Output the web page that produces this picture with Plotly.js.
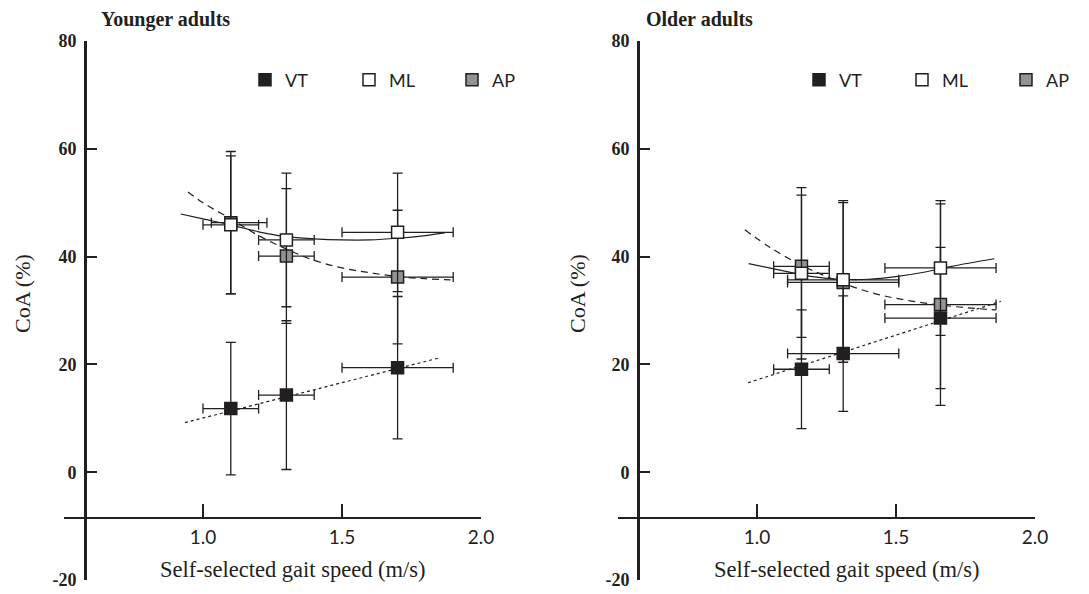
<!DOCTYPE html>
<html>
<head>
<meta charset="utf-8">
<script src="https://cdn.plot.ly/plotly-3.0.1.min.js"></script>
<style>html,body{margin:0;padding:0;background:#fff;}#chart{width:1089px;height:594px;}</style>
</head>
<body>
<div id="chart"></div>
<script>
// ---------- data ----------
const seriesNames = ["VT", "ML", "AP"];
const panelTitles = ["Younger adults", "Older adults"];
const xTickVals = [1.0, 1.5, 2.0];
const xTickText = ["1.0", "1.5", "2.0"];
const yTickVals = [-20, 0, 20, 40, 60, 80];
const yTickText = ["-20", "0", "20", "40", "60", "80"];

// Younger adults
const speedYoung = [1.10, 1.30, 1.70];
const vtYoung = [11.8, 14.3, 19.4];
const vtYoungSd = [12.3, 13.8, 13.2];
const mlYoung = [45.9, 43.1, 44.5];
const mlYoungSd = [12.8, 12.4, 11.0];
const apYoung = [46.3, 40.1, 36.2];
const apYoungSd = [13.2, 12.5, 12.4];
const speedYoungSd = [0.10, 0.10, 0.20];
const apYoungSpeedPlus = [0.13, 0.10, 0.20];
const apYoungSpeedMinus = [0.07, 0.10, 0.20];

// Older adults
const speedOld = [1.16, 1.31, 1.66];
const vtOld = [19.1, 22.0, 28.6];
const vtOldSd = [11.0, 10.7, 13.1];
const mlOld = [36.9, 35.7, 37.9];
const mlOldSd = [15.9, 14.7, 12.5];
const apOld = [38.2, 35.2, 31.1];
const apOldSd = [13.2, 14.8, 18.7];
const speedOldSd = [0.10, 0.20, 0.20];

// Fit curves
const fitYoungVtX = [0.935, 1.85];
const fitYoungVtY = [9.2, 21.2];
const fitYoungMlX = [0.92, 1.0, 1.1, 1.2, 1.3, 1.4, 1.5, 1.6, 1.7, 1.8, 1.87];
const fitYoungMlY = [47.9, 47.0, 45.9, 44.6, 43.7, 43.3, 43.1, 43.1, 43.4, 43.9, 44.4];
const fitYoungApX = [0.946, 1.0, 1.1, 1.2, 1.3, 1.4, 1.5, 1.6, 1.7, 1.8, 1.89];
const fitYoungApY = [52.0, 50.0, 47.0, 43.9, 41.4, 39.3, 37.9, 37.0, 36.3, 35.9, 35.7];

const fitOldVtX = [0.968, 1.877];
const fitOldVtY = [16.6, 31.7];
const fitOldMlX = [0.97, 1.1, 1.2, 1.3, 1.4, 1.5, 1.6, 1.7, 1.854];
const fitOldMlY = [38.7, 37.3, 36.3, 35.8, 35.8, 36.3, 37.1, 38.2, 39.6];
const fitOldApX = [0.956, 1.05, 1.16, 1.25, 1.35, 1.45, 1.55, 1.66, 1.76, 1.86];
const fitOldApY = [45.0, 41.6, 38.4, 36.3, 34.3, 32.8, 31.8, 31.0, 30.5, 30.1];

// ---------- styling ----------
const INK = "#231f20";
const W = 1089, H = 594;
const px = v => v / W;
const py = v => 1 - v / H;
const sans = "Lato, 'Open Sans', sans-serif";
const serif = "'Liberation Serif', 'Times New Roman', serif";

const fills = {VT: INK, ML: "#ffffff", AP: "#939393"};

function fitTrace(x, y, dash, xa, ya, shape) {
  return {x: x, y: y, type: "scatter", mode: "lines", xaxis: xa, yaxis: ya,
    line: {color: INK, width: 1.2, dash: dash, shape: shape}, showlegend: false, hoverinfo: "skip"};
}
function dataTrace(name, x, y, sd, xPlus, xMinus, xa, ya, legendId) {
  return {x: x, y: y, name: name, type: "scatter", mode: "markers", xaxis: xa, yaxis: ya,
    legend: legendId,
    marker: {symbol: "square", size: 12, color: fills[name], line: {color: INK, width: 1.5}},
    error_y: {type: "data", array: sd, visible: true, color: INK, thickness: 1.3, width: 5},
    error_x: {type: "data", array: xPlus, arrayminus: xMinus, symmetric: false, visible: true, color: INK, thickness: 1.3, width: 5}
  };
}

const traces = [
  fitTrace(fitYoungVtX, fitYoungVtY, "dot", "x", "y", "linear"),
  fitTrace(fitYoungApX, fitYoungApY, "7px,5px", "x", "y", "spline"),
  fitTrace(fitYoungMlX, fitYoungMlY, "solid", "x", "y", "spline"),
  dataTrace("VT", speedYoung, vtYoung, vtYoungSd, speedYoungSd, speedYoungSd, "x", "y", "legend"),
  dataTrace("AP", speedYoung, apYoung, apYoungSd, apYoungSpeedPlus, apYoungSpeedMinus, "x", "y", "legend3"),
  dataTrace("ML", speedYoung, mlYoung, mlYoungSd, speedYoungSd, speedYoungSd, "x", "y", "legend2"),

  fitTrace(fitOldVtX, fitOldVtY, "dot", "x2", "y2", "linear"),
  fitTrace(fitOldApX, fitOldApY, "7px,5px", "x2", "y2", "spline"),
  fitTrace(fitOldMlX, fitOldMlY, "solid", "x2", "y2", "spline"),
  dataTrace("VT", speedOld, vtOld, vtOldSd, speedOldSd, speedOldSd, "x2", "y2", "legend4"),
  dataTrace("AP", speedOld, apOld, apOldSd, speedOldSd, speedOldSd, "x2", "y2", "legend6"),
  dataTrace("ML", speedOld, mlOld, mlOldSd, speedOldSd, speedOldSd, "x2", "y2", "legend5")
];

function xAxis(d0, d1) {
  return {domain: [px(d0), px(d1)], range: [0.5, 2.0], anchor: "free", position: py(518),
    tickmode: "array", tickvals: xTickVals, ticktext: xTickText,
    ticks: "inside", ticklen: 13, tickwidth: 2, tickcolor: INK,
    showline: true, linewidth: 2, linecolor: INK, showgrid: false, zeroline: false,
    tickfont: {family: sans, size: 19, color: INK}, ticklabelstandoff: 2, fixedrange: true};
}
function yAxis(pos) {
  return {domain: [py(580), py(41)], range: [-20, 80], anchor: "free", position: px(pos),
    tickmode: "array", tickvals: yTickVals, ticktext: yTickText,
    ticks: "inside", ticklen: 10, tickwidth: 2, tickcolor: INK,
    showline: true, linewidth: 2.5, linecolor: INK, showgrid: false, zeroline: false,
    tickfont: {family: serif, size: 18, color: INK, weight: "bold"}, ticklabelstandoff: 4, fixedrange: true};
}
function legendAt(cx) {
  return {x: px(cx - 20), xanchor: "left", y: py(80), yanchor: "middle", orientation: "h",
    bgcolor: "rgba(0,0,0,0)", borderwidth: 0, itemwidth: 30,
    font: {family: sans, size: 18, color: INK}, itemclick: false, itemdoubleclick: false};
}

const ann = [];
ann.push({text: panelTitles[0], x: px(99), y: py(19), xref: "paper", yref: "paper", xanchor: "left", yanchor: "middle", showarrow: false,
  font: {family: serif, size: 20, color: INK, weight: "bold"}});
ann.push({text: panelTitles[1], x: px(644), y: py(19), xref: "paper", yref: "paper", xanchor: "left", yanchor: "middle", showarrow: false,
  font: {family: serif, size: 20, color: INK, weight: "bold"}});
[22, 577].forEach(cx => ann.push({text: "CoA (%)", x: px(cx), y: py(294), xref: "paper", yref: "paper", xanchor: "center", yanchor: "middle",
  textangle: -90, showarrow: false, font: {family: serif, size: 22, color: INK}}));
[293, 847].forEach(cx => ann.push({text: "Self-selected gait speed (m/s)", x: px(cx), y: py(569), xref: "paper", yref: "paper", xanchor: "center", yanchor: "middle",
  showarrow: false, font: {family: serif, size: 22.5, color: INK}}));

const layout = {
  width: W, height: H, margin: {l: 0, r: 0, t: 0, b: 0},
  paper_bgcolor: "#ffffff", plot_bgcolor: "rgba(0,0,0,0)",
  xaxis: xAxis(64, 481), yaxis: yAxis(85),
  xaxis2: xAxis(618, 1035), yaxis2: yAxis(638),
  legend: legendAt(265), legend2: legendAt(369), legend3: legendAt(472),
  legend4: legendAt(819), legend5: legendAt(922), legend6: legendAt(1026),
  annotations: ann, hovermode: false
};

Plotly.newPlot("chart", traces, layout, {displayModeBar: false, staticPlot: true});
</script>
</body>
</html>
